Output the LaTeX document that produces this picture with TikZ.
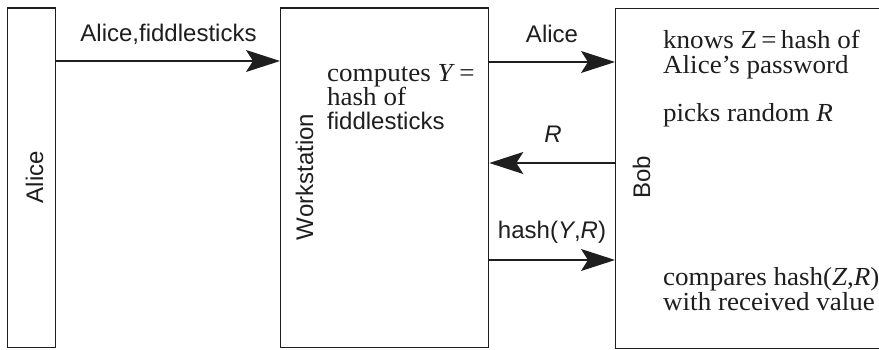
\documentclass[tikz,border=0pt]{standalone}
\usepackage{fontspec}
\setmainfont{Liberation Serif}[FakeStretch=1.04]
\setsansfont{Liberation Sans}
\usetikzlibrary{arrows.meta}
\definecolor{ink}{HTML}{1E1E1E}
\begin{document}
\begin{tikzpicture}[x=1pt,y=-1pt,
  box/.style={draw=ink, line width=1.3pt, inner sep=0pt, anchor=north west},
  msg/.style={draw=ink, line width=1.2pt, -{Stealth[length=34pt,width=22pt,inset=7pt,fill=ink]}},
  lab/.style={font=\sffamily\fontsize{24}{28}\selectfont, inner sep=0pt, anchor=base, text=ink},
  side/.style={lab, rotate=90},
  note/.style={font=\rmfamily\fontsize{26}{25}\selectfont, inner sep=0pt, anchor=base west, text=ink},
  snote/.style={font=\sffamily\fontsize{24}{25}\selectfont, inner sep=0pt, anchor=base west, text=ink},
]
\useasboundingbox (0,0) rectangle (879,350);
\fill[white] (0,0) rectangle (879,350);
\clip (0,0) rectangle (879,350);

% boxes
\node[box, minimum width=48pt, minimum height=339pt] (alice) at (7,7.5) {};
\node[box, minimum width=208pt, minimum height=339pt] (ws) at (280,7.5) {};
\node[box, minimum width=290pt, minimum height=340pt] (bob) at (615,8) {};

% side labels
\node[side] (aliceL) at (43,177) {Alice};
\node[side] (wsL) at (313,177) {Workstation};
\node[side] (bobL) at (650,177.5) {Bob};

% arrow heights
\coordinate (y1) at (0,61);
\coordinate (y2) at (0,62);
\coordinate (y3) at (0,163);
\coordinate (y4) at (0,260);

\draw[msg] (alice.east |- y1) -- (ws.west |- y1);
\draw[msg] (ws.east |- y2) -- (bob.west |- y2);
\draw[msg] (bob.west |- y3) -- (ws.east |- y3);
\draw[msg] (ws.east |- y4) -- (bob.west |- y4);

% arrow labels
\node[lab] (m1) at (168.5,42) {Alice,fiddlesticks};
\node[lab] (m2) at (552,43) {Alice};
\node[lab] (m3) at (553,143) {\textit{R}};
\node[lab] (m4) at (552,238) {hash(\textit{Y},\textit{R})};

% workstation notes
\node[note] (w1) at (327,82) {computes \textit{Y}\,=};
\node[note] (w2) at (327,106) {hash of};
\node[snote] (w3) at (327,130) {fiddlesticks};

% bob notes
\node[note] (b1) at (663,49) {knows Z\,=\,hash of};
\node[note] (b2) at (663,74) {Alice’s password};
\node[note] (b3) at (663,122) {picks random \textit{R}};
\node[note] (b4) at (663,285) {compares hash(\textit{Z},\textit{R})};
\node[note] (b5) at (663,310) {with received value};
\end{tikzpicture}
\end{document}
